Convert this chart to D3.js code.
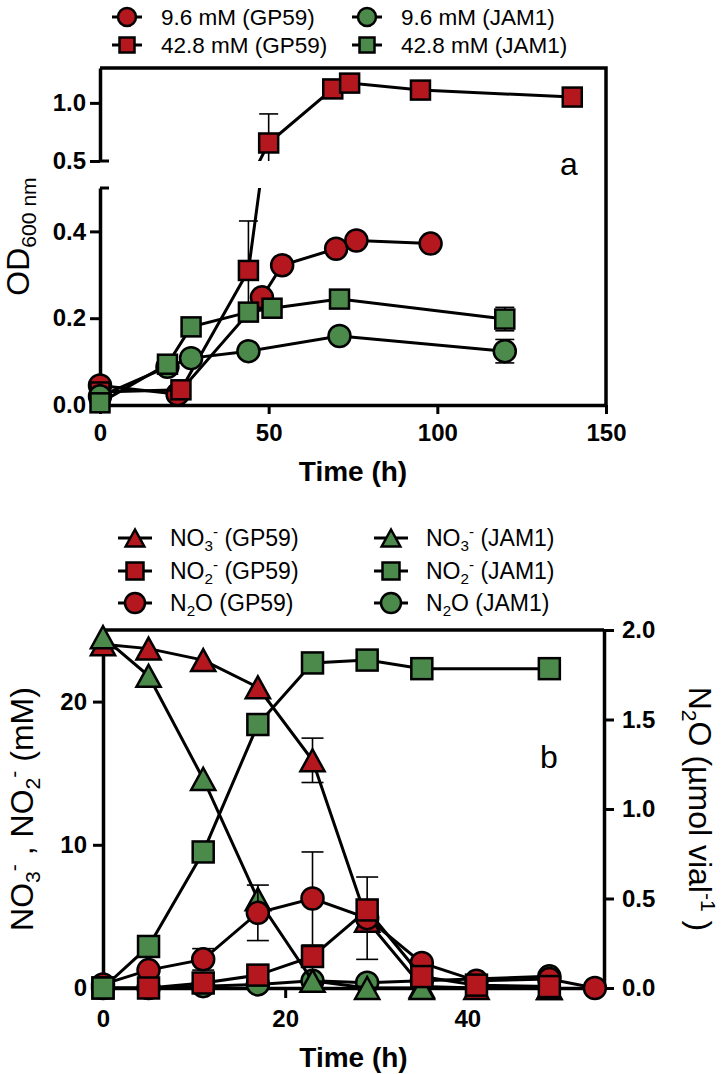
<!DOCTYPE html>
<html>
<head>
<meta charset="utf-8">
<script src="https://cdn.jsdelivr.net/npm/d3@7"></script>
<style>
  body { margin: 0; background: #fff; }
  text { font-family: "Liberation Sans", Arial, sans-serif; }
</style>
</head>
<body>
<svg id="chart" width="724" height="1074"></svg>
<script>
// ---- panel a: OD600 over time ----
let aRedCircTime = [0, 23, 48, 54, 70, 76, 98];
let aRedCircOD = [0.045, 0.025, 0.248, 0.322, 0.36, 0.379, 0.372];
let aRedCircErr = [0, 0, 0, 0, 0, 0, 0];

let aRedSqTime = [0, 24, 44, 50, 69, 74, 95, 140];
let aRedSqOD = [0.03, 0.035, 0.31, 0.655, 1.12, 1.17, 1.11, 1.05];
let aRedSqErr = [0, 0, 0.114, 0.25, 0, 0, 0, 0];

let aGreenCircTime = [0, 20, 27, 44, 71, 120];
let aGreenCircOD = [0.02, 0.088, 0.108, 0.124, 0.159, 0.124];
let aGreenCircErr = [0, 0, 0, 0, 0, 0.027];

let aGreenSqTime = [0, 20, 27, 44, 51, 71, 120];
let aGreenSqOD = [0.005, 0.094, 0.18, 0.214, 0.223, 0.244, 0.198];
let aGreenSqErr = [0, 0, 0, 0, 0, 0, 0.027];

let aLegend = ["9.6 mM (GP59)", "9.6 mM (JAM1)", "42.8 mM (GP59)", "42.8 mM (JAM1)"];
let aXTicks = [0, 50, 100, 150];
let aYTicksLow = [0, 0.2, 0.4];
let aYTicksHigh = [0.5, 1.0];

// ---- panel b: nitrogen species over time ----
let bGPTimeN = [0, 5, 11, 17, 23, 29, 35, 41, 49];
let bGPNO3 = [24.0, 23.7, 22.9, 21.0, 15.9, 4.7, 0.1, 0, 0];
let bGPNO3Err = [0, 0, 0, 0, 1.55, 0, 0, 0, 0];
let bGPNO2 = [0, 0, 0.35, 0.9, 2.2, 5.45, 0.8, 0.2, 0.1];

let bGPTimeGas = [0, 5, 11, 17, 23, 29, 35, 41, 49, 54];
let bGPN2O = [0.02, 0.1, 0.16, 0.42, 0.5, 0.39, 0.14, 0.04, 0.05, 0];
let bGPN2OErr = [0, 0, 0.06, 0.155, 0.26, 0.23, 0, 0, 0, 0];

let bJAMTime = [0, 5, 11, 17, 23, 29, 35, 49];
let bJAMNO3 = [24.5, 21.8, 14.6, 6.2, 0.5, 0, 0, 0];
let bJAMNO2 = [0, 2.9, 9.5, 18.4, 22.7, 22.9, 22.3, 22.3];
let bJAMN2O = [0, 0, 0.01, 0.02, 0.04, 0.03, 0.04, 0.065];

let bXTicks = [0, 20, 40];
let bYTicks = [0, 10, 20];
let bY2Ticks = [0, 0.5, 1.0, 1.5, 2.0];

let RED = "#b5171e";
let GREEN = "#4b8a4b";
let FONT = "'Liberation Sans', Arial, sans-serif";

let svg = d3.select("#chart");
let defs = svg.append("defs");

// rich text: parts are strings or [text, "sub"|"sup"]
function rich(sel, parts, fs) {
  let shift = 0;
  parts.forEach(p => {
    let txt = typeof p === "string" ? p : p[0];
    let kind = typeof p === "string" ? null : p[1];
    let target = kind === "sub" ? fs * 0.22 : kind === "sup" ? -fs * 0.38 : 0;
    sel.append("tspan")
      .attr("dy", target - shift)
      .attr("font-size", kind ? fs * 0.66 : fs)
      .text(txt);
    shift = target;
  });
}

function drawMarker(g, shape, x, y, size, fill) {
  let m;
  if (shape === "circle") {
    m = g.append("circle").attr("cx", x).attr("cy", y).attr("r", size / 2);
  } else if (shape === "square") {
    m = g.append("rect").attr("x", x - size / 2).attr("y", y - size / 2)
      .attr("width", size).attr("height", size);
  } else {
    let w = size * 1.1, h = size;
    m = g.append("path").attr("d",
      `M${x},${y - h / 2}L${x + w / 2},${y + h / 2}L${x - w / 2},${y + h / 2}Z`);
  }
  m.attr("fill", fill).attr("stroke", "#000").attr("stroke-width", 2.5)
    .attr("stroke-linejoin", "miter");
}

function styleAxis(g) {
  g.selectAll("path.domain").attr("stroke", "#000").attr("stroke-width", 3.5);
  g.selectAll(".tick line").attr("stroke", "#000").attr("stroke-width", 3);
  g.selectAll(".tick text").attr("font-family", FONT).attr("font-weight", "bold")
    .attr("font-size", 24).attr("fill", "#000");
}

function errBar(g, x, y1, y2, cap) {
  g.append("line").attr("x1", x).attr("x2", x).attr("y1", y1).attr("y2", y2)
    .attr("stroke", "#000").attr("stroke-width", 1.6);
  [y1, y2].forEach(yy => g.append("line").attr("x1", x - cap / 2).attr("x2", x + cap / 2)
    .attr("y1", yy).attr("y2", yy).attr("stroke", "#000").attr("stroke-width", 1.6));
}

// ================= PANEL A =================
let xA = d3.scaleLinear().domain([0, 150]).range([100, 606]);
let yLow = d3.scaleLinear().domain([0, 0.5]).range([405, 188]);
let yHigh = d3.scaleLinear().domain([0.5, 1.3]).range([161, 68]);

defs.append("clipPath").attr("id", "clipLow").append("rect")
  .attr("x", 0).attr("y", 188).attr("width", 724).attr("height", 330);
defs.append("clipPath").attr("id", "clipHigh").append("rect")
  .attr("x", 0).attr("y", 0).attr("width", 724).attr("height", 161);

let segments = [
  { y: yLow, clip: "url(#clipLow)", inSeg: v => v < 0.5 },
  { y: yHigh, clip: "url(#clipHigh)", inSeg: v => v >= 0.5 }
];

let aSeries = [
  { t: aRedCircTime, v: aRedCircOD, e: aRedCircErr, shape: "circle", fill: RED, size: 22 },
  { t: aRedSqTime, v: aRedSqOD, e: aRedSqErr, shape: "square", fill: RED, size: 19 },
  { t: aGreenCircTime, v: aGreenCircOD, e: aGreenCircErr, shape: "circle", fill: GREEN, size: 22 },
  { t: aGreenSqTime, v: aGreenSqOD, e: aGreenSqErr, shape: "square", fill: GREEN, size: 19 }
];

let gA = svg.append("g");

// axes panel a
let xAxisA = gA.append("g").attr("transform", "translate(0,405)")
  .call(d3.axisBottom(xA).tickValues(aXTicks).tickSize(9).tickPadding(10).tickSizeOuter(0));
styleAxis(xAxisA);

let yAxisLow = gA.append("g").attr("transform", "translate(100,0)")
  .call(d3.axisLeft(yLow).tickValues(aYTicksLow).tickFormat(d3.format(".1f"))
    .tickSize(10).tickPadding(4).tickSizeOuter(0));
styleAxis(yAxisLow);

let yAxisHigh = gA.append("g").attr("transform", "translate(100,0)")
  .call(d3.axisLeft(yHigh).tickValues(aYTicksHigh).tickFormat(d3.format(".1f"))
    .tickSize(10).tickPadding(4).tickSizeOuter(0));
styleAxis(yAxisHigh);

// break caps + frame
gA.append("line").attr("x1", 100).attr("x2", 109).attr("y1", yHigh(0.5)).attr("y2", yHigh(0.5))
  .attr("stroke", "#000").attr("stroke-width", 3);
gA.append("line").attr("x1", 100).attr("x2", 109).attr("y1", yLow(0.5)).attr("y2", yLow(0.5))
  .attr("stroke", "#000").attr("stroke-width", 3);
gA.append("path").attr("d", `M${xA(0)},${yHigh(1.3)}H${xA(150)}V${yLow(0)}`)
  .attr("fill", "none").attr("stroke", "#000").attr("stroke-width", 3.5);

aSeries.forEach(s => {
  let pts = s.t.map((t, i) => ({ t, v: s.v[i], e: s.e[i] }));
  segments.forEach(seg => {
    let sg = gA.append("g").attr("clip-path", seg.clip);
    sg.append("path").datum(pts)
      .attr("d", d3.line().x(d => xA(d.t)).y(d => seg.y(d.v)))
      .attr("fill", "none").attr("stroke", "#000").attr("stroke-width", 3);
    // error bars only in the segment that holds the point
    pts.filter(d => d.e > 0 && seg.inSeg(d.v)).forEach(d =>
      errBar(sg, xA(d.t), seg.y(d.v + d.e), seg.y(d.v - d.e), 19));
  });
  pts.forEach(d => {
    let seg = segments.find(sg => sg.inSeg(d.v));
    drawMarker(gA, s.shape, xA(d.t), seg.y(d.v), s.size, s.fill);
  });
});

gA.append("text").attr("x", 560).attr("y", 175).attr("font-size", 32).attr("fill", "#000").text("a");

gA.append("text").attr("x", (xA(0) + xA(150)) / 2).attr("y", 481)
  .attr("text-anchor", "middle").attr("font-weight", "bold").attr("font-size", 28)
  .text("Time (h)");

let odLabel = gA.append("text")
  .attr("transform", `translate(29,${(yHigh(1.3) + yLow(0)) / 2}) rotate(-90)`)
  .attr("text-anchor", "middle").attr("fill", "#000");
rich(odLabel, ["OD", ["600 nm", "sub"]], 32);

// legend a
let aShapes = ["circle", "circle", "square", "square"];
let aFills = [RED, GREEN, RED, GREEN];
aLegend.forEach((lab, i) => {
  let col = i % 2, row = Math.floor(i / 2);
  let mx = col === 0 ? 127 : 367, my = row === 0 ? 17 : 45;
  gA.append("line").attr("x1", mx - 15).attr("x2", mx + 15).attr("y1", my).attr("y2", my)
    .attr("stroke", "#000").attr("stroke-width", 3);
  drawMarker(gA, aShapes[i], mx, my, aShapes[i] === "circle" ? 18 : 15, aFills[i]);
  gA.append("text").attr("x", mx + 34).attr("y", my).attr("dy", "0.36em")
    .attr("font-size", 22.5).attr("fill", "#000").text(lab);
});

// ================= PANEL B =================
let xB = d3.scaleLinear().domain([0, 55]).range([103, 604]);
let yB = d3.scaleLinear().domain([0, 25]).range([988, 630]);
let yB2 = d3.scaleLinear().domain([0, 2]).range([988, 630]);

let gB = svg.append("g");

let xAxisB = gB.append("g").attr("transform", "translate(0,988)")
  .call(d3.axisBottom(xB).tickValues(bXTicks).tickSize(10).tickPadding(12).tickSizeOuter(0));
styleAxis(xAxisB);
let yAxisB = gB.append("g").attr("transform", "translate(103,0)")
  .call(d3.axisLeft(yB).tickValues(bYTicks).tickSize(10).tickPadding(6).tickSizeOuter(0));
styleAxis(yAxisB);
let yAxisB2 = gB.append("g").attr("transform", "translate(604,0)")
  .call(d3.axisRight(yB2).tickValues(bY2Ticks).tickFormat(d3.format(".1f"))
    .tickSize(10).tickPadding(8).tickSizeOuter(0));
styleAxis(yAxisB2);
gB.append("line").attr("x1", 103).attr("x2", 604).attr("y1", 630).attr("y2", 630)
  .attr("stroke", "#000").attr("stroke-width", 3.5);

let zeros = n => new Array(n).fill(0);
let bSeries = [
  { t: bJAMTime, v: bJAMN2O, e: zeros(bJAMTime.length), y: yB2, shape: "circle", fill: GREEN },
  { t: bGPTimeN, v: bGPNO3, e: bGPNO3Err, y: yB, shape: "triangle", fill: RED },
  { t: bJAMTime, v: bJAMNO3, e: zeros(bJAMTime.length), y: yB, shape: "triangle", fill: GREEN },
  { t: bGPTimeGas, v: bGPN2O, e: bGPN2OErr, y: yB2, shape: "circle", fill: RED },
  { t: bGPTimeN, v: bGPNO2, e: zeros(bGPTimeN.length), y: yB, shape: "square", fill: RED },
  { t: bJAMTime, v: bJAMNO2, e: zeros(bJAMTime.length), y: yB, shape: "square", fill: GREEN }
];

bSeries.forEach(s => {
  let pts = s.t.map((t, i) => ({ t, v: s.v[i], e: s.e[i] }));
  gB.append("path").datum(pts)
    .attr("d", d3.line().x(d => xB(d.t)).y(d => s.y(d.v)))
    .attr("fill", "none").attr("stroke", "#000").attr("stroke-width", 3);
  pts.filter(d => d.e > 0).forEach(d =>
    errBar(gB, xB(d.t), s.y(d.v + d.e), s.y(d.v - d.e), 22));
  pts.forEach(d => drawMarker(gB, s.shape, xB(d.t), s.y(d.v),
    s.shape === "square" ? 21 : 22, s.fill));
});

gB.append("text").attr("x", 540).attr("y", 768).attr("font-size", 32).attr("fill", "#000").text("b");

gB.append("text").attr("x", (103 + 604) / 2).attr("y", 1067)
  .attr("text-anchor", "middle").attr("font-weight", "bold").attr("font-size", 28)
  .text("Time (h)");

let leftLab = gB.append("text")
  .attr("transform", "translate(33,809) rotate(-90)")
  .attr("text-anchor", "middle").attr("fill", "#000");
rich(leftLab, ["NO", ["3", "sub"], ["-", "sup"], " , NO", ["2", "sub"], ["-", "sup"], " (mM)"], 32);

let rightLab = gB.append("text")
  .attr("transform", "translate(689,809) rotate(90)")
  .attr("text-anchor", "middle").attr("fill", "#000");
rich(rightLab, ["N", ["2", "sub"], "O (\u00b5mol vial", ["-1", "sup"], " )"], 32);

// legend b
let bLegendRows = [
  { shape: "triangle", parts: ["NO", ["3", "sub"], ["-", "sup"]] },
  { shape: "square", parts: ["NO", ["2", "sub"], ["-", "sup"]] },
  { shape: "circle", parts: ["N", ["2", "sub"], "O"] }
];
let bStrains = ["GP59", "JAM1"];
bLegendRows.forEach((r, ri) => {
  bStrains.forEach((st, ci) => {
    let mx = ci === 0 ? 135 : 391, my = [538, 571, 603][ri];
    gB.append("line").attr("x1", mx - 17).attr("x2", mx + 17).attr("y1", my).attr("y2", my)
      .attr("stroke", "#000").attr("stroke-width", 3);
    drawMarker(gB, r.shape, mx, my, r.shape === "circle" ? 20 : 17, ci === 0 ? RED : GREEN);
    let t = gB.append("text").attr("x", mx + 35).attr("y", my + 8).attr("fill", "#000");
    rich(t, r.parts.concat([" (" + st + ")"]), 23);
  });
});
</script>
</body>
</html>
